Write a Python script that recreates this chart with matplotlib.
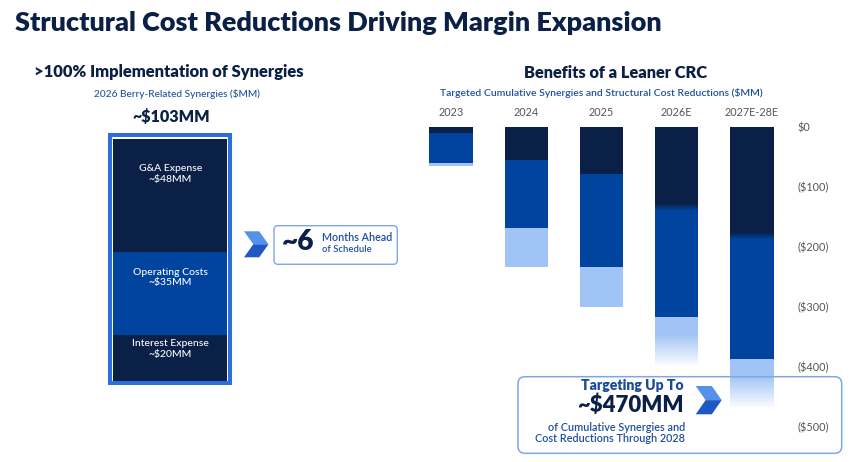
import numpy as np
import matplotlib
matplotlib.use('Agg')
import matplotlib.pyplot as plt
from matplotlib.patches import Rectangle, FancyBboxPatch, Polygon

# ---------------- data ----------------
syn_categories = ['Interest Expense', 'Operating Costs', 'G&A Expense']
syn_values = [20, 35, 48]
syn_total_label = '~$103MM'

years = ['2023', '2024', '2025', '2026E', '2027E-28E']
seg_dark = [10, 55, 78, 132, 180]
seg_med = [50, 114, 156, 185, 207]
seg_light = [5, 65, 66, 83, 83]
y_ticks = [0, -100, -200, -300, -400, -500]
y_ticklabels = ['$0', '($100)', '($200)', '($300)', '($400)', '($500)']

# ---------------- style ----------------
W, H = 850, 462
NAVY = '#0a2046'
MED = '#0044a0'
LIGHT = '#a0c4f5'
BORDER = '#2c6fd8'
TXTBLUE = '#1f4fa0'
GRAY = '#555555'
FONT = ['Lato', 'DejaVu Sans']
HEAVY = 'heavy'
plt.rcParams['font.family'] = FONT

fig = plt.figure(figsize=(W / 100, H / 100), dpi=100)
renderer = fig.canvas.get_renderer()

# overlay axes in pixel coordinates for annotations
axO = fig.add_axes([0, 0, 1, 1], zorder=10)
axO.set_xlim(0, W)
axO.set_ylim(H, 0)
axO.axis('off')


def put(text, x, y, width=None, size=10, ha='center', va='center', ax=None, **kw):
    ax = ax or axO
    t = ax.text(x, y, text, ha=ha, va=va, fontsize=size, **kw)
    if width:
        w = t.get_window_extent(renderer).width
        t.set_fontsize(size * width / w)
    return t


def chevron(x0, y0, x1, y1):
    h = y1 - y0
    d = (x1 - x0) * 0.38
    a = (x1 - x0) - d
    ym = y0 + h / 2
    top = [(x0, y0), (x0 + a, y0), (x1, ym), (x0 + d, ym)]
    bot = [(x0 + d, ym), (x1, ym), (x0 + a, y1), (x0, y1)]
    axO.add_patch(Polygon(top, closed=True, color='#5590ea', lw=0))
    axO.add_patch(Polygon(bot, closed=True, color='#1d58c4', lw=0))


# ---------------- left panel ----------------
axL = fig.add_axes([113.3 / W, 1 - 381.7 / H, (227.3 - 113.3) / W, (381.7 - 138.7) / H])
axL.set_xlim(-0.5, 0.5)
axL.set_ylim(0, sum(syn_values))
axL.axis('off')
bottoms = np.concatenate([[0], np.cumsum(syn_values)[:-1]])
colorsL = [NAVY, MED, NAVY]
axL.bar(0, syn_values, bottom=bottoms, width=1.0, color=colorsL, lw=0)
probe = axL.text(0, 0, 'Interest Expense', fontsize=10, weight='medium')
lab_size = 10 * 77 / probe.get_window_extent(renderer).width
probe.remove()
for cat, v, b in zip(syn_categories, syn_values, bottoms):
    axL.text(0, b + 0.69 * v, f'{cat}\n~${v}MM', ha='center', va='center',
             color='white', fontsize=lab_size, linespacing=1.2, weight='medium')

axO.add_patch(Rectangle((110.3, 134.7), 120, 248.3, fill=False, ec=BORDER, lw=2.9))

# ---------------- right panel ----------------
axR = fig.add_axes([413.4 / W, 1 - 444.7 / H, 376.2 / W, 318 / H])
x = np.arange(len(years))
dark = np.array(seg_dark)
med = np.array(seg_med)
light = np.array(seg_light)
bw = 0.573
axR.bar(x, -dark, width=bw, color=NAVY, lw=0)
axR.bar(x, -med, bottom=-dark, width=bw, color=MED, lw=0)
axR.bar(x, -light, bottom=-(dark + med), width=bw, color=LIGHT, lw=0)

# soft navy->medium transition and fading light segment for estimates
c0 = np.array(matplotlib.colors.to_rgb(NAVY))
c1 = np.array(matplotlib.colors.to_rgb(MED))
cl = np.array(matplotlib.colors.to_rgb(LIGHT))
white = np.ones(3)
nb = 24
for i, yr in enumerate(years):
    if not yr.endswith('E'):
        continue
    # blend band around the navy/medium boundary
    edges = np.linspace(-dark[i] + 4, -dark[i] - 8, nb + 1)
    for k in range(nb):
        t = (k + 0.5) / nb
        axR.bar(x[i], edges[k + 1] - edges[k], bottom=edges[k], width=bw,
                color=c0 * (1 - t) + c1 * t, lw=0, zorder=3)
    # lower part of the light segment fades to white
    top = -(dark[i] + med[i])
    edges = np.linspace(top - 0.35 * light[i], top - light[i], nb + 1)
    for k in range(nb):
        t = (k + 0.5) / nb
        axR.bar(x[i], edges[k + 1] - edges[k], bottom=edges[k], width=bw,
                color=cl * (1 - t) + white * t, lw=0, zorder=3)

axR.set_xlim(-0.5, len(years) - 0.5)
axR.set_ylim(-530, 0)
for s in axR.spines.values():
    s.set_visible(False)
axR.set_facecolor('none')
axR.yaxis.tick_right()
axR.set_yticks(y_ticks, y_ticklabels)
axR.xaxis.tick_top()
axR.set_xticks(x, years)
axR.tick_params(axis='y', length=0, pad=5.5, labelsize=7.8, labelcolor=GRAY)
axR.tick_params(axis='x', length=0, pad=6.5, labelsize=7.8, labelcolor=GRAY)

# ---------------- texts ----------------
put('Structural Cost Reductions Driving Margin Expansion', 15, 23, width=650,
    ha='left', weight=HEAVY, color=NAVY)
put('>100% Implementation of Synergies', 169, 72, width=272, weight=HEAVY, color=NAVY)
put('2026 Berry-Related Synergies ($MM)', 177.3, 94, width=167, color=TXTBLUE, weight='medium')
put(syn_total_label, 170.8, 117, width=78, weight=HEAVY, color=NAVY)
put('Benefits of a Leaner CRC', 615.3, 72.7, width=184, weight=HEAVY, color=NAVY)
put('Targeted Cumulative Synergies and Structural Cost Reductions ($MM)', 601.7, 93.3,
    width=322, color=TXTBLUE, weight='semibold')

# months-ahead callout
chevron(244, 231.3, 268.5, 257.3)
axO.add_patch(FancyBboxPatch((274, 225.7), 123.3, 38.6,
                             boxstyle='round,pad=0,rounding_size=4',
                             fill=False, ec='#7ea6e8', lw=1.0))
put('~6', 298, 241.7, width=32.6, weight=HEAVY, color=NAVY)
put('Months Ahead', 322.3, 237.7, width=70, ha='left', color=TXTBLUE, weight='semibold')
put('of Schedule', 322.3, 249.3, width=49, ha='left', color=TXTBLUE, weight='semibold')

# total callout
axO.add_patch(FancyBboxPatch((518, 376.7), 323.7, 76.6,
                             boxstyle='round,pad=0,rounding_size=7',
                             fill=False, ec='#7ea6e8', lw=1.1))
chevron(695.7, 386, 721.7, 414.3)
put('Targeting Up To', 683.3, 385, width=103, ha='right', weight=HEAVY, color='#1a4a9a')
put('~$470MM', 683.3, 405, width=107, ha='right', weight=HEAVY, color=NAVY)
put('of Cumulative Synergies and', 685, 427.7, width=138, ha='right', color=TXTBLUE,
    weight='semibold')
put('Cost Reductions Through 2028', 685, 438.6, width=150, ha='right', color=TXTBLUE,
    weight='semibold')

fig.savefig('out.png', dpi=100)
